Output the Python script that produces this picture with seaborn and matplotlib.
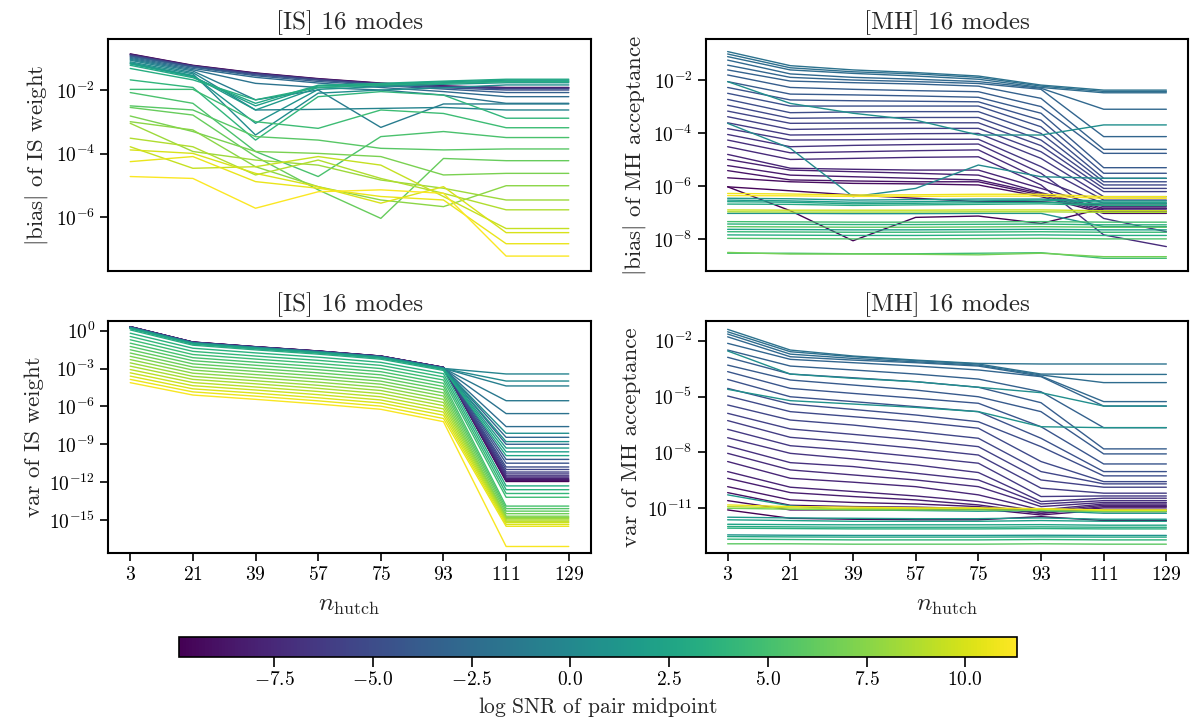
import numpy as np
import pandas as pd
import matplotlib
matplotlib.use("Agg")
import matplotlib.pyplot as plt
import seaborn as sns
from matplotlib.colors import Normalize
from matplotlib.cm import ScalarMappable
from matplotlib.ticker import NullLocator

# ---------------- data ----------------
n_hutch = [3, 21, 39, 57, 75, 93, 111, 129]
snr_min, snr_max = -9.9, 11.3
cbar_ticks = [-7.5, -5.0, -2.5, 0.0, 2.5, 5.0, 7.5, 10.0]

# [IS] |bias| of IS weight  (log10 values)
is_bias_snr = [-9.9, -8.6, -7.3, -6.0, -4.8, -3.6, -2.6, -1.8, -1.1, -0.4, 0.3, 0.9, 1.5, 2.1, 2.7, 3.3,
               4.0, 4.6, 5.2, 5.8, 6.4, 7.0, 7.6, 8.2, 8.8, 9.4, 10.0, 10.6, 11.2]
is_bias_log10 = [
    [-0.85, -1.21, -1.45, -1.63, -1.77, -1.86, -1.91, -1.91],
    [-0.86, -1.22, -1.46, -1.64, -1.78, -1.87, -1.92, -1.92],
    [-0.87, -1.23, -1.47, -1.65, -1.79, -1.88, -1.93, -1.93],
    [-0.89, -1.24, -1.48, -1.66, -1.80, -1.89, -1.95, -1.95],
    [-0.91, -1.25, -1.51, -1.68, -1.82, -1.92, -1.99, -1.99],
    [-0.93, -1.27, -1.54, -1.72, -1.85, -1.96, -2.07, -2.07],
    [-0.96, -1.31, -1.59, -1.77, -1.91, -2.04, -2.20, -2.20],
    [-0.99, -1.35, -1.78, -1.91, -1.99, -2.15, -2.41, -2.41],
    [-1.02, -1.39, -2.30, -1.99, -3.17, -2.43, -2.43, -2.43],
    [-1.05, -1.44, -2.62, -2.60, -2.57, -2.54, -2.62, -2.62],
    [-1.10, -1.48, -3.41, -2.09, -1.99, -1.92, -1.83, -1.83],
    [-1.13, -1.53, -3.04, -1.97, -1.88, -1.81, -1.76, -1.76],
    [-1.15, -1.55, -2.62, -1.91, -1.83, -1.76, -1.71, -1.71],
    [-1.17, -1.57, -2.49, -1.86, -1.80, -1.73, -1.68, -1.68],
    [-1.21, -1.60, -2.41, -1.84, -1.78, -1.71, -1.65, -1.65],
    [-1.31, -1.67, -2.30, -1.91, -1.83, -1.78, -1.73, -1.73],
    [-1.67, -1.91, -3.57, -2.20, -2.04, -2.15, -2.88, -2.88],
    [-1.97, -1.97, -2.99, -3.20, -2.62, -2.73, -3.18, -3.18],
    [-2.07, -2.41, -3.93, -4.72, -3.46, -3.30, -3.49, -3.49],
    [-2.49, -2.62, -3.46, -3.57, -3.83, -3.88, -3.85, -3.85],
    [-2.54, -2.78, -4.09, -5.14, -6.04, -4.15, -4.22, -4.22],
    [-2.81, -3.30, -3.93, -3.99, -4.09, -4.67, -4.62, -4.62],
    [-2.99, -3.25, -4.41, -5.04, -5.46, -5.67, -5.01, -5.01],
    [-3.04, -3.93, -4.20, -4.36, -4.83, -5.09, -5.46, -5.46],
    [-3.51, -3.78, -4.67, -4.20, -4.78, -5.25, -5.77, -5.77],
    [-3.78, -4.46, -4.41, -4.09, -4.36, -5.35, -6.36, -6.36],
    [-3.88, -3.99, -4.62, -5.04, -5.56, -5.04, -6.49, -6.49],
    [-4.25, -4.09, -4.88, -5.09, -5.35, -5.46, -6.84, -6.84],
    [-4.72, -4.78, -5.72, -5.20, -5.14, -5.25, -7.23, -7.23],
]

# [MH] |bias| of MH acceptance  (log10 values)
mh_bias_snr = [-1.9, -2.2, -2.5, -2.8, -3.1, -3.4, -3.7, -4.0, -4.4, -4.7, -5.0, -5.3, -5.6, -5.9,
               -6.2, -6.5, -6.8, -7.1, -7.4, -7.7, -8.0, -8.4, -8.8, -9.2, -9.6, -9.9, 0.6, 0.2,
               10.8, 11.2, 1.2, 1.8, 2.4, 3.0, 9.6, 8.6, 0.8, 5.0, 3.6, 6.0, 2.2, 4.4, 3.2, 5.5, 6.8, 4.8]
mh_bias_log10 = [
    [-0.93, -1.46, -1.62, -1.72, -1.85, -2.19, -2.38, -2.38],
    [-1.02, -1.54, -1.69, -1.77, -1.90, -2.23, -2.43, -2.43],
    [-1.12, -1.62, -1.75, -1.85, -1.97, -2.28, -2.48, -2.48],
    [-1.25, -1.77, -1.90, -1.97, -2.06, -2.31, -3.10, -3.10],
    [-1.44, -1.90, -2.00, -2.06, -2.13, -2.35, -4.13, -4.13],
    [-1.62, -2.04, -2.10, -2.15, -2.23, -2.69, -4.61, -4.61],
    [-1.81, -2.28, -2.35, -2.40, -2.44, -3.00, -4.76, -4.76],
    [-2.06, -2.53, -2.56, -2.60, -2.65, -3.25, -5.30, -5.30],
    [-2.28, -2.75, -2.78, -2.80, -2.82, -3.51, -5.51, -5.51],
    [-2.50, -2.98, -2.98, -2.98, -2.98, -3.76, -5.70, -5.70],
    [-2.73, -3.23, -3.20, -3.19, -3.19, -4.01, -5.83, -5.83],
    [-2.95, -3.44, -3.42, -3.41, -3.41, -4.26, -5.95, -5.95],
    [-3.17, -3.63, -3.62, -3.61, -3.61, -4.47, -6.08, -6.08],
    [-3.38, -3.86, -3.83, -3.82, -3.82, -4.70, -6.20, -6.20],
    [-3.61, -4.07, -4.05, -4.02, -4.01, -4.95, -6.39, -6.39],
    [-3.83, -4.26, -4.25, -4.23, -4.23, -5.26, -6.52, -6.52],
    [-4.05, -4.51, -4.46, -4.43, -4.41, -5.51, -7.21, -7.71],
    [-4.26, -4.74, -4.70, -4.66, -4.63, -5.76, -6.64, -6.64],
    [-4.51, -4.99, -4.95, -4.91, -4.89, -5.95, -7.83, -8.27],
    [-4.80, -5.32, -5.36, -5.39, -5.39, -6.08, -6.77, -6.77],
    [-4.99, -5.39, -5.45, -5.51, -5.58, -6.24, -6.83, -6.83],
    [-5.22, -5.58, -5.64, -5.70, -5.76, -6.27, -6.89, -6.89],
    [-5.41, -5.76, -5.80, -5.83, -5.83, -6.33, -6.96, -6.96],
    [-5.68, -5.83, -5.89, -5.91, -5.95, -6.39, -7.02, -7.02],
    [-6.02, -6.17, -6.33, -6.45, -6.58, -6.58, -6.71, -6.71],
    [-6.02, -6.92, -8.05, -7.17, -7.12, -7.40, -6.83, -6.83],
    [-2.06, -2.88, -3.25, -3.51, -4.07, -4.07, -3.69, -3.69],
    [-3.63, -4.57, -6.39, -6.08, -5.20, -5.64, -5.70, -5.70],
    [-6.27, -6.29, -6.33, -6.32, -6.30, -6.30, -6.39, -6.39],
    [-6.35, -6.36, -6.38, -6.38, -6.37, -6.37, -6.45, -6.45],
    [-6.45, -6.47, -6.52, -6.50, -6.48, -6.48, -6.55, -6.55],
    [-6.52, -6.55, -6.60, -6.58, -6.55, -6.52, -6.60, -6.60],
    [-6.58, -6.60, -6.66, -6.64, -6.62, -6.60, -6.66, -6.66],
    [-6.67, -6.68, -6.72, -6.70, -6.68, -6.66, -6.72, -6.72],
    [-6.89, -6.90, -6.90, -6.90, -6.89, -6.89, -6.92, -6.92],
    [-6.96, -6.97, -6.97, -6.97, -6.96, -6.96, -6.98, -6.98],
    [-7.02, -7.02, -7.03, -7.03, -7.02, -7.02, -7.52, -7.52],
    [-7.33, -7.34, -7.35, -7.35, -7.34, -7.33, -7.35, -7.35],
    [-7.42, -7.43, -7.44, -7.44, -7.43, -7.42, -7.45, -7.45],
    [-7.52, -7.53, -7.54, -7.54, -7.53, -7.52, -7.54, -7.54],
    [-7.62, -7.63, -7.64, -7.64, -7.63, -7.62, -7.64, -7.64],
    [-7.71, -7.72, -7.73, -7.73, -7.72, -7.71, -7.73, -7.73],
    [-7.83, -7.84, -7.85, -7.85, -7.84, -7.83, -7.85, -7.85],
    [-7.96, -7.97, -7.98, -7.98, -7.97, -7.96, -7.98, -7.98],
    [-8.49, -8.55, -8.55, -8.56, -8.58, -8.52, -8.65, -8.65],
    [-8.52, -8.52, -8.54, -8.54, -8.52, -8.50, -8.71, -8.71],
]

# [IS] var of IS weight  (log10 values)
is_var_snr = [-9.9, -9.4, -8.9, -8.4, -7.9, -7.4, -6.9, -6.4, -5.9, -5.4, -4.9, -4.4, -3.9, -3.4,
              -2.9, -2.4, -1.9, -1.4, -0.9, -0.4, 0.1, 0.6, 1.1, 1.6, 2.1, 2.6,
              3.1, 3.6, 4.1, 4.6, 5.1, 5.6, 6.1, 6.6, 7.1, 7.6, 8.1, 8.6, 9.1, 9.6, 10.1, 10.6, 11.1]
is_var_log10 = [
    [0.32, -0.90, -1.27, -1.61, -2.01, -2.90, -11.95, -11.95],
    [0.32, -0.90, -1.27, -1.61, -2.01, -2.90, -11.90, -11.90],
    [0.31, -0.91, -1.28, -1.62, -2.02, -2.91, -11.85, -11.85],
    [0.31, -0.91, -1.28, -1.62, -2.02, -2.91, -11.80, -11.80],
    [0.30, -0.92, -1.29, -1.63, -2.03, -2.92, -11.70, -11.70],
    [0.30, -0.92, -1.29, -1.63, -2.03, -2.92, -11.60, -11.60],
    [0.29, -0.93, -1.30, -1.64, -2.04, -2.93, -11.50, -11.50],
    [0.29, -0.93, -1.30, -1.64, -2.04, -2.93, -11.35, -11.35],
    [0.28, -0.94, -1.31, -1.65, -2.05, -2.94, -11.20, -11.20],
    [0.28, -0.94, -1.31, -1.65, -2.05, -2.94, -11.00, -11.00],
    [0.27, -0.95, -1.32, -1.66, -2.06, -2.95, -10.80, -10.80],
    [0.27, -0.95, -1.32, -1.66, -2.06, -2.95, -10.50, -10.50],
    [0.26, -0.96, -1.33, -1.67, -2.07, -2.96, -10.20, -10.20],
    [0.26, -0.96, -1.33, -1.67, -2.07, -2.96, -9.00, -9.00],
    [0.25, -0.97, -1.34, -1.68, -2.08, -2.97, -8.45, -8.45],
    [0.25, -0.97, -1.34, -1.68, -2.08, -2.97, -7.60, -7.60],
    [0.24, -0.98, -1.35, -1.69, -2.09, -2.98, -6.57, -6.57],
    [0.24, -0.98, -1.35, -1.69, -2.09, -2.98, -5.55, -5.55],
    [0.23, -0.99, -1.36, -1.70, -2.10, -2.99, -4.38, -4.38],
    [0.23, -0.99, -1.36, -1.70, -2.10, -2.99, -3.43, -3.43],
    [0.22, -1.00, -1.37, -1.71, -2.11, -3.00, -3.99, -3.99],
    [0.21, -1.01, -1.38, -1.72, -2.12, -3.01, -8.13, -8.13],
    [0.20, -1.02, -1.39, -1.73, -2.13, -3.02, -8.79, -8.79],
    [0.19, -1.03, -1.40, -1.74, -2.14, -3.03, -9.30, -9.30],
    [0.18, -1.04, -1.41, -1.75, -2.15, -3.04, -9.60, -9.60],
    [0.17, -1.05, -1.42, -1.76, -2.16, -3.05, -9.90, -9.90],
    [0.06, -1.15, -1.52, -1.86, -2.26, -3.15, -12.30, -12.30],
    [-0.20, -1.39, -1.76, -2.10, -2.51, -3.41, -12.60, -12.60],
    [-0.46, -1.64, -2.01, -2.35, -2.75, -3.66, -12.90, -12.90],
    [-0.72, -1.89, -2.25, -2.60, -3.00, -3.91, -13.20, -13.20],
    [-0.99, -2.14, -2.50, -2.85, -3.25, -4.17, -13.90, -13.90],
    [-1.25, -2.38, -2.74, -3.09, -3.50, -4.42, -14.10, -14.10],
    [-1.51, -2.63, -2.99, -3.34, -3.75, -4.67, -14.30, -14.30],
    [-1.77, -2.88, -3.23, -3.59, -4.00, -4.93, -14.50, -14.50],
    [-2.03, -3.12, -3.48, -3.83, -4.24, -5.18, -14.70, -14.70],
    [-2.29, -3.37, -3.72, -4.08, -4.49, -5.44, -14.80, -14.80],
    [-2.55, -3.62, -3.97, -4.33, -4.74, -5.69, -14.90, -14.90],
    [-2.81, -3.86, -4.21, -4.57, -4.99, -5.94, -15.00, -15.00],
    [-3.08, -4.11, -4.46, -4.82, -5.24, -6.20, -15.10, -15.10],
    [-3.34, -4.36, -4.70, -5.07, -5.49, -6.45, -15.20, -15.20],
    [-3.60, -4.61, -4.95, -5.32, -5.73, -6.70, -15.35, -15.35],
    [-3.86, -4.85, -5.19, -5.56, -5.98, -6.96, -15.50, -15.50],
    [-4.12, -5.10, -5.44, -5.81, -6.23, -7.21, -17.10, -17.10],
]

# [MH] var of MH acceptance  (log10 values)
mh_var_snr = [-1.9, -2.2, -2.5, -2.8, -3.1, -3.4, -3.7, -4.0, -4.3, -4.6, -4.9, -5.2, -5.5, -5.8,
              -6.1, -6.4, -6.7, -7.0, -7.3, -7.6, -7.9, -8.2, -8.6, -9.0, -9.5, -9.9, 0.5, 0.9, 1.3,
              10.8, 9.0, 6.8, 1.5, 2.0, 2.5, 3.0, 3.5, 1.0, 2.8, 4.0, 6.0]
mh_var_log10 = [
    [-1.39, -2.50, -2.82, -3.04, -3.22, -3.25, -3.25, -3.25],
    [-1.52, -2.59, -2.86, -3.07, -3.25, -3.79, -3.81, -3.81],
    [-1.64, -2.72, -2.95, -3.13, -3.31, -3.84, -4.25, -4.25],
    [-1.79, -2.86, -3.04, -3.18, -3.36, -3.90, -5.27, -5.27],
    [-2.14, -3.00, -3.18, -3.36, -3.57, -3.93, -5.51, -5.51],
    [-2.50, -3.36, -3.57, -3.79, -4.06, -4.74, -6.67, -6.67],
    [-2.89, -3.79, -3.99, -4.20, -4.50, -5.33, -7.81, -7.81],
    [-3.31, -4.11, -4.38, -4.65, -5.01, -5.81, -8.08, -8.08],
    [-3.66, -4.56, -4.83, -5.09, -5.36, -6.62, -8.62, -8.62],
    [-4.08, -5.01, -5.27, -5.54, -5.81, -7.24, -9.03, -9.03],
    [-4.56, -5.40, -5.69, -5.99, -6.35, -7.69, -9.26, -9.26],
    [-4.97, -5.81, -6.08, -6.35, -6.70, -8.49, -9.57, -9.57],
    [-5.45, -6.26, -6.53, -6.88, -7.24, -9.03, -9.69, -9.69],
    [-5.90, -6.74, -7.03, -7.33, -7.69, -9.48, -9.87, -9.87],
    [-6.29, -7.19, -7.46, -7.78, -8.14, -9.92, -10.19, -10.19],
    [-6.76, -7.64, -7.90, -8.23, -8.58, -10.37, -10.34, -10.34],
    [-7.21, -8.05, -8.35, -8.67, -9.08, -10.64, -10.46, -10.46],
    [-7.65, -8.55, -8.76, -9.12, -9.48, -10.77, -10.59, -10.59],
    [-8.05, -8.94, -9.21, -9.48, -9.84, -10.91, -10.69, -10.69],
    [-8.49, -9.39, -9.60, -9.84, -10.28, -11.09, -10.77, -10.77],
    [-9.03, -9.87, -10.10, -10.34, -10.64, -11.18, -10.84, -10.84],
    [-9.39, -10.16, -10.37, -10.55, -10.82, -11.27, -10.91, -10.91],
    [-9.84, -10.55, -10.69, -10.77, -10.91, -11.27, -10.98, -10.98],
    [-10.16, -10.84, -10.91, -10.94, -11.02, -11.36, -11.09, -11.09],
    [-10.59, -11.09, -11.09, -11.09, -11.05, -11.09, -11.18, -11.18],
    [-11.09, -11.54, -11.59, -11.62, -11.62, -11.45, -11.66, -11.66],
    [-2.55, -3.79, -4.02, -4.20, -4.50, -4.79, -5.51, -5.51],
    [-4.61, -5.22, -5.40, -5.58, -5.81, -6.62, -6.67, -6.67],
    [-10.28, -10.87, -11.09, -11.12, -11.16, -11.12, -11.27, -11.27],
    [-10.82, -10.91, -10.94, -10.98, -10.98, -11.02, -11.09, -11.09],
    [-10.91, -10.98, -11.02, -11.02, -11.02, -11.05, -11.12, -11.12],
    [-11.00, -11.05, -11.09, -11.09, -11.09, -11.12, -11.18, -11.18],
    [-11.48, -11.52, -11.54, -11.56, -11.56, -11.52, -11.59, -11.59],
    [-11.62, -11.66, -11.70, -11.70, -11.70, -11.66, -11.70, -11.70],
    [-11.86, -11.88, -11.89, -11.89, -11.89, -11.88, -11.91, -11.91],
    [-11.98, -12.00, -12.02, -12.02, -12.02, -12.00, -12.02, -12.02],
    [-12.07, -12.09, -12.11, -12.11, -12.11, -12.09, -12.11, -12.11],
    [-12.43, -12.45, -12.46, -12.46, -12.46, -12.45, -12.46, -12.46],
    [-12.52, -12.54, -12.55, -12.55, -12.55, -12.54, -12.55, -12.55],
    [-12.66, -12.68, -12.70, -12.70, -12.70, -12.68, -12.70, -12.70],
    [-12.91, -12.91, -12.93, -12.93, -12.93, -12.91, -12.93, -12.93],
]

# ---------------- style ----------------
sns.set_style("ticks")
plt.rcParams.update({
    "font.family": "serif",
    "font.serif": ["cmr10"],
    "mathtext.fontset": "cm",
    "axes.formatter.use_mathtext": True,
    "axes.unicode_minus": True,
    "axes.linewidth": 1.5,
    "axes.edgecolor": "black",
    "xtick.major.size": 6,
    "ytick.major.size": 6,
    "xtick.major.width": 1.2,
    "ytick.major.width": 1.2,
    "xtick.color": "black",
    "ytick.color": "black",
    "xtick.labelsize": 14,
    "ytick.labelsize": 14,
})


def to_frame(snr, rows):
    recs = []
    for i, (s, row) in enumerate(zip(snr, rows)):
        for x, v in zip(n_hutch, row):
            recs.append({"line": i, "snr": s, "n": x, "value": 10.0 ** v})
    return pd.DataFrame(recs)


W, H = 1190, 721
fig = plt.figure(figsize=(W / 100, H / 100), dpi=100)


def rect(l, t, r, b):
    return [l / W, 1 - b / H, (r - l) / W, (b - t) / H]


panels = [
    (rect(108.3, 39.3, 590.7, 271.3), is_bias_snr, is_bias_log10, "[IS] 16 modes",
     r"$|$bias$|$ of IS weight", (-0.39, -7.71), [-2, -4, -6], False),
    (rect(705.7, 39.0, 1188.3, 271.3), mh_bias_snr, mh_bias_log10, "[MH] 16 modes",
     r"$|$bias$|$ of MH acceptance", (-0.456, -9.2), [-2, -4, -6, -8], False),
    (rect(108.3, 320.7, 590.7, 553.3), is_var_snr, is_var_log10, "[IS] 16 modes",
     "var of IS weight", (0.79, -17.64), [0, -3, -6, -9, -12, -15], True),
    (rect(705.7, 321.0, 1188.3, 553.3), mh_var_snr, mh_var_log10, "[MH] 16 modes",
     "var of MH acceptance", (-0.94, -13.42), [-2, -5, -8, -11], True),
]

norm = Normalize(vmin=snr_min, vmax=snr_max)

for pos, snr, rows, title, ylabel, ylim, yt, bottom in panels:
    ax = fig.add_axes(pos)
    df = to_frame(snr, rows)
    sns.lineplot(data=df, x="n", y="value", hue="snr", units="line", estimator=None,
                 palette="viridis", hue_norm=(snr_min, snr_max), legend=False,
                 linewidth=1.0, ax=ax)
    ax.set_yscale("log")
    ax.set_ylim(10.0 ** ylim[1], 10.0 ** ylim[0])
    ax.set_yticks([10.0 ** e for e in yt])
    ax.yaxis.set_minor_locator(NullLocator())
    ax.set_xlim(-3.3, 135.3)
    ax.set_title(title, fontsize=18, pad=7)
    ax.set_ylabel(ylabel, fontsize=16.5)
    if bottom:
        ax.set_xticks(n_hutch)
        ax.set_xlabel(r"$n_{\mathrm{hutch}}$", fontsize=18.5, labelpad=6)
    else:
        ax.set_xticks([])
        ax.set_xlabel("")
    for sp in ax.spines.values():
        sp.set_visible(True)
        sp.set_linewidth(1.5)

cax = fig.add_axes(rect(179.3, 637.3, 1016.7, 656.7))
sm = ScalarMappable(norm=norm, cmap="viridis")
cb = fig.colorbar(sm, cax=cax, orientation="horizontal")
cb.set_ticks(cbar_ticks)
cb.ax.tick_params(labelsize=14, length=7, width=1.2)
cb.outline.set_linewidth(1.2)
cb.set_label(r"$\log\,\mathrm{SNR}$ of pair midpoint", fontsize=15.5)

fig.savefig("out.png", dpi=100)
